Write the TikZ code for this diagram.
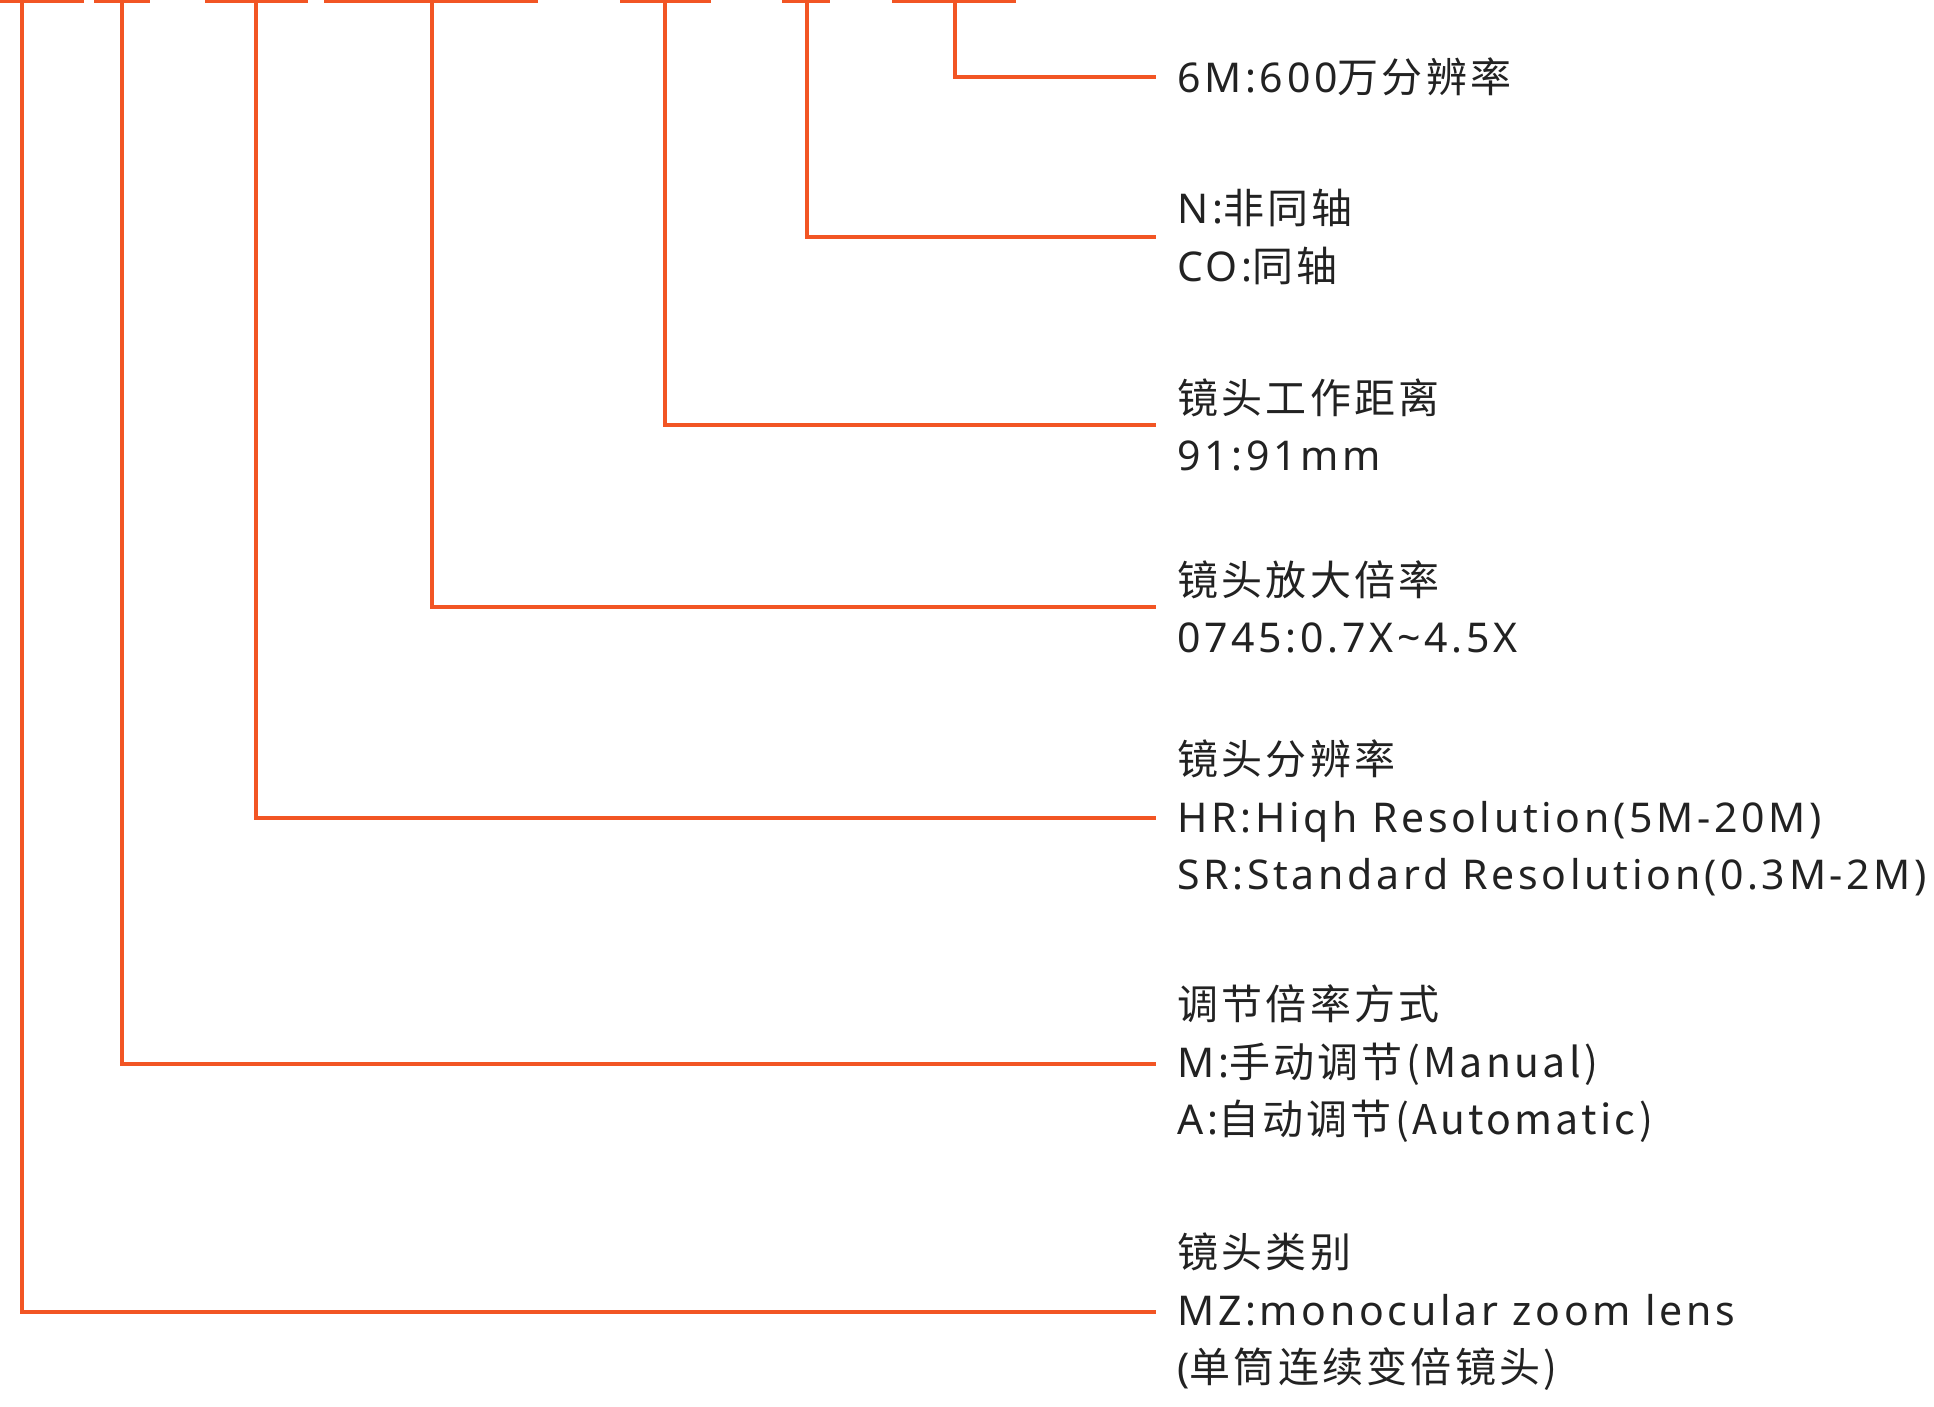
\documentclass[tikz,border=0pt]{standalone}
\usepackage{fontspec}
\setmainfont{Noto Sans}[LetterSpace=9]
\newfontfamily\cjk{Noto Sans CJK SC}[LetterSpace=8]
\definecolor{lineor}{RGB}{242,85,36}
\definecolor{txt}{RGB}{34,34,34}
\begin{document}
\begin{tikzpicture}[x=1pt,y=-1pt,
  conn/.style={draw=lineor,line width=3.5pt,line cap=butt},
  lbl/.style={anchor=west,inner sep=0pt,align=left,text=txt,
    font=\fontsize{41}{57.5}\selectfont}]
\useasboundingbox (0,0) rectangle (1934,1406);
% top underline fragments
\foreach \a/\b in {0/84,94/150,205/308,324/538,620/711,782/830,892/1016}
  \draw[conn] (\a,1.5) -- (\b,1.5);
% tops
\coordinate (t1) at (955,0);
\coordinate (t2) at (807,0);
\coordinate (t3) at (665,0);
\coordinate (t4) at (432,0);
\coordinate (t5) at (256,0);
\coordinate (t6) at (122,0);
\coordinate (t7) at (22,0);
% labels
\node[lbl] (n1) at (1177,77) {6M:600\cjk{万分辨率}};
\node[lbl] (n2) at (1177,237) {N:\cjk{非同轴}\\CO:\cjk{同轴}};
\node[lbl] (n3) at (1177,425) {\cjk{镜头工作距离}\\91:91mm};
\node[lbl] (n4) at (1177,607) {\cjk{镜头放大倍率}\\0745:0.7X\textasciitilde4.5X};
\node[lbl] (n5) at (1177,818) {\cjk{镜头分辨率}\\HR:Hiqh Resolution(5M-20M)\\SR:Standard Resolution(0.3M-2M)};
\node[lbl] (n6) at (1177,1064) {\cjk{调节倍率方式}\\M:\cjk{手动调节}(Manual)\\A:\cjk{自动调节}(Automatic)};
\node[lbl] (n7) at (1177,1312) {\cjk{镜头类别}\\MZ:monocular zoom lens\\(\cjk{单筒连续变倍镜头})};
% connectors
\draw[conn] (t1) |- ([xshift=-21pt]n1.west);
\draw[conn] (t2) |- ([xshift=-21pt]n2.west);
\draw[conn] (t3) |- ([xshift=-21pt]n3.west);
\draw[conn] (t4) |- ([xshift=-21pt]n4.west);
\draw[conn] (t5) |- ([xshift=-21pt]n5.west);
\draw[conn] (t6) |- ([xshift=-21pt]n6.west);
\draw[conn] (t7) |- ([xshift=-21pt]n7.west);
\end{tikzpicture}
\end{document}
